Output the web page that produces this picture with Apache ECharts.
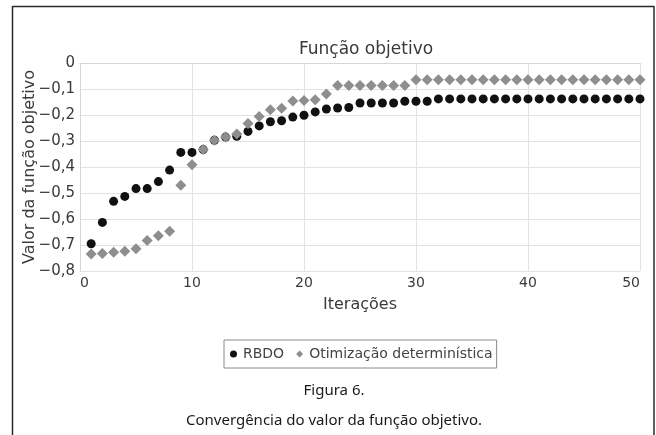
<!DOCTYPE html>
<html>
<head>
<meta charset="utf-8">
<script src="https://cdn.jsdelivr.net/npm/echarts@6/dist/echarts.min.js"></script>
<style>
    html, body { margin: 0; padding: 0; background: #fff; }
    #chart { width: 656px; height: 435px; }
</style>
</head>
<body>
<div id="chart"></div>
<script>
// iterações (eixo x)
const iteracoes = [
    1, 2, 3, 4, 5, 6, 7, 8, 9, 10,
    11, 12, 13, 14, 15, 16, 17, 18, 19, 20,
    21, 22, 23, 24, 25, 26, 27, 28, 29, 30,
    31, 32, 33, 34, 35, 36, 37, 38, 39, 40,
    41, 42, 43, 44, 45, 46, 47, 48, 49, 50
]

// valores
const rbdo = [
    -0.695, -0.613, -0.532, -0.513, -0.483, -0.483, -0.456, -0.412, -0.344, -0.344,
    -0.333, -0.297, -0.285, -0.282, -0.263, -0.242, -0.226, -0.222, -0.208, -0.201,
    -0.188, -0.177, -0.173, -0.171, -0.154, -0.154, -0.154, -0.154, -0.147, -0.147,
    -0.147, -0.138, -0.138, -0.138, -0.138, -0.138, -0.138, -0.138, -0.138, -0.138,
    -0.138, -0.138, -0.138, -0.138, -0.138, -0.138, -0.138, -0.138, -0.138, -0.138
]

const deterministica = [
    -0.735, -0.733, -0.728, -0.724, -0.714, -0.683, -0.664, -0.647, -0.470, -0.391,
    -0.333, -0.297, -0.285, -0.273, -0.233, -0.206, -0.180, -0.174, -0.146, -0.144,
    -0.141, -0.119, -0.087, -0.087, -0.087, -0.087, -0.087, -0.087, -0.087, -0.064,
    -0.064, -0.064, -0.064, -0.064, -0.064, -0.064, -0.064, -0.064, -0.064, -0.064,
    -0.064, -0.064, -0.064, -0.064, -0.064, -0.064, -0.064, -0.064, -0.064, -0.064
]

const nomes = ['RBDO', 'Otimização determinística']

const chart = echarts.init(document.getElementById('chart'), null, {renderer: 'canvas'})

const fonte = 'DejaVu Sans, Verdana, sans-serif'
const fonteLegenda = '15px "Noto Sans", "Open Sans", sans-serif'

const option = {
    backgroundColor: '#fff',
    animation: false,
    textStyle: {
        fontFamily: fonte
    },
    title: {
        text: 'Função objetivo',
        left: 361,
        textAlign: 'center',
        top: 36,
        textStyle: {
            fontSize: 17,
            fontWeight: 'normal',
            color: '#3a3a3a',
            fontFamily: fonte
        }
    },
    legend: {
        data: [
            {name: nomes[0], icon: 'circle'},
            {name: nomes[1], icon: 'diamond'}
        ],
        left: 224,
        top: 340,
        itemWidth: 7,
        itemHeight: 7,
        itemGap: 12,
        padding: [7, 4, 7, 6],
        borderColor: '#8a8a8a',
        borderWidth: 1,
        textStyle: {
            fontSize: 14,
            color: '#444',
            padding: [0, 0, 0, 1],
            fontFamily: fonte
        }
    },
    grid: {
        left: 80,
        top: 63,
        width: 560,
        height: 208,
        containLabel: false
    },
    xAxis: {
        type: 'value',
        min: 0,
        max: 50,
        interval: 10,
        name: 'Iterações',
        nameLocation: 'middle',
        nameGap: 26,
        nameMoveOverlap: false,
        nameTextStyle: {
            fontSize: 16,
            color: '#3a3a3a'
        },
        axisLine: {show: true, lineStyle: {color: '#d6d6d6'}},
        axisTick: {show: false},
        splitLine: {show: true, lineStyle: {color: '#e2e2e2'}},
        axisLabel: {
            fontSize: 14,
            color: '#3a3a3a',
            margin: 5,
            alignMinLabel: 'left',
            alignMaxLabel: 'right'
        }
    },
    yAxis: {
        type: 'value',
        min: -0.8,
        max: 0,
        interval: 0.1,
        name: 'Valor da função objetivo',
        nameLocation: 'middle',
        nameRotate: 90,
        nameGap: 42,
        nameMoveOverlap: false,
        nameTextStyle: {
            fontSize: 16,
            color: '#3a3a3a'
        },
        axisLine: {show: true, lineStyle: {color: '#d6d6d6'}},
        axisTick: {show: false},
        splitLine: {show: true, lineStyle: {color: '#e2e2e2'}},
        axisLabel: {
            fontSize: 15,
            color: '#3a3a3a',
            margin: 5,
            formatter: v => {
                if (Math.abs(v) < 1e-9) return '0'
                return '\u2212' + Math.abs(v).toFixed(1).replace('.', ',')
            }
        }
    },
    series: [
        {
            name: nomes[0],
            type: 'scatter',
            symbol: 'circle',
            symbolSize: 9,
            itemStyle: {color: '#111', opacity: 1},
            data: iteracoes.map((x, i) => [x, rbdo[i]])
        },
        {
            name: nomes[1],
            type: 'scatter',
            symbol: 'diamond',
            symbolSize: [11, 11],
            itemStyle: {color: '#8e8e8e', opacity: 1},
            data: iteracoes.map((x, i) => [x, deterministica[i]])
        }
    ],
    graphic: [
        // moldura
        {type: 'line', shape: {x1: 12.5, y1: 6.5, x2: 654, y2: 6.5}, style: {stroke: '#2a2a2a', lineWidth: 1.5}},
        {type: 'line', shape: {x1: 12.5, y1: 6, x2: 12.5, y2: 435}, style: {stroke: '#2a2a2a', lineWidth: 1.5}},
        {type: 'line', shape: {x1: 654, y1: 6, x2: 654, y2: 435}, style: {stroke: '#2a2a2a', lineWidth: 1.5}},
        // legendas da figura
        {
            type: 'text', x: 334, y: 383,
            style: {text: 'Figura 6.', font: fonteLegenda, fill: '#1a1a1a', align: 'center'}
        },
        {
            type: 'text', x: 334, y: 413,
            style: {text: 'Convergência do valor da função objetivo.', font: fonteLegenda, fill: '#1a1a1a', align: 'center'}
        }
    ]
}

chart.setOption(option)
</script>
</body>
</html>
